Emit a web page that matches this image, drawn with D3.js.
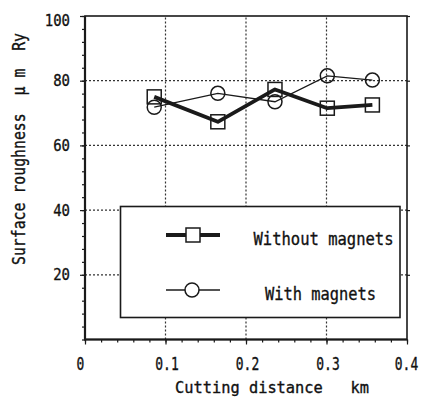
<!DOCTYPE html>
<html>
<head>
<meta charset="utf-8">
<script src="https://cdn.jsdelivr.net/npm/d3@7"></script>
<style>
  body { margin: 0; background: #fff; }
  text { font-family: "DejaVu Sans Mono", "Liberation Mono", monospace; fill: #111; stroke: #111; stroke-width: 0.35px; }
</style>
</head>
<body>
<div id="container"></div>
<script>
// Chart data
const distance = [0.086, 0.165, 0.236, 0.301, 0.357];
const withoutMagnets = [75.0, 67.3, 77.3, 71.5, 72.5];
const withMagnets = [71.8, 76.1, 73.5, 81.5, 80.2];
const xTicks = [0, 0.1, 0.2, 0.3, 0.4];
const xTickLabels = ["0", "0.1", "0.2", "0.3", "0.4"];
const yTicks = [20, 40, 60, 80, 100];
const seriesNames = ["Without magnets", "With magnets"];
const xTitle = "Cutting distance\u00A0\u00A0\u00A0km";
const yTitle = "Surface roughness\u00A0\u00A0\u03BC\u00A0m\u00A0\u00A0Ry";

const width = 425;
const height = 398;
const ink = "#1a1a1a";

const svg = d3.select("#container")
    .append("svg")
    .attr("width", width)
    .attr("height", height);

const xScale = d3.scaleLinear().domain([0, 0.4]).range([85, 407]);
const yScale = d3.scaleLinear().domain([0, 100]).range([339.5, 16]);

//Grid lines (dotted)
svg.append("g").selectAll("line")
    .data(xTicks.slice(1, -1))
    .enter().append("line")
    .attr("x1", d => xScale(d)).attr("x2", d => xScale(d))
    .attr("y1", yScale(0)).attr("y2", yScale(100))
    .attr("stroke", "#333").attr("stroke-width", 1.2)
    .attr("stroke-dasharray", "2,2");
svg.append("g").selectAll("line")
    .data(yTicks.slice(0, -1))
    .enter().append("line")
    .attr("x1", xScale(0)).attr("x2", xScale(0.4))
    .attr("y1", d => yScale(d)).attr("y2", d => yScale(d))
    .attr("stroke", "#333").attr("stroke-width", 1.2)
    .attr("stroke-dasharray", "2,2");

//Minor ticks
const yMinor = d3.axisLeft(yScale).tickValues(d3.range(0, 101, 4)).tickSize(3).tickFormat("");
svg.append("g").attr("transform", `translate(${xScale(0)},0)`).call(yMinor)
    .call(g => g.select(".domain").remove());
const xMinor = d3.axisBottom(xScale).tickValues(d3.range(0, 0.401, 0.02)).tickSize(3).tickFormat("");
svg.append("g").attr("transform", `translate(0,${yScale(0)})`).call(xMinor)
    .call(g => g.select(".domain").remove());

//Right side inner ticks
const yRight = d3.axisLeft(yScale).tickValues(yTicks).tickSize(3).tickFormat("");
svg.append("g").attr("transform", `translate(${xScale(0.4) + 3},0)`).call(yRight)
    .call(g => g.select(".domain").remove());

//Major axes
const yAxis = d3.axisLeft(yScale).tickValues(yTicks).tickSize(5).tickSizeOuter(0).tickPadding(10);
svg.append("g").attr("id", "y-axis")
    .attr("transform", `translate(${xScale(0)},0)`)
    .call(yAxis)
    .call(g => g.select(".domain").remove())
    .call(g => g.selectAll("text")
        .style("font-size", "16px")
        .attr("y", d => d === 100 ? 4 : 0)
        .attr("textLength", d => String(d).length * 8.4)
        .attr("lengthAdjust", "spacingAndGlyphs"));

const xAxis = d3.axisBottom(xScale).tickValues(xTicks).tickSize(5).tickSizeOuter(0).tickPadding(13)
    .tickFormat((d, i) => xTickLabels[i]);
svg.append("g").attr("id", "x-axis")
    .attr("transform", `translate(0,${yScale(0)})`)
    .call(xAxis)
    .call(g => g.select(".domain").remove())
    .call(g => g.selectAll("text")
        .style("font-size", "17px")
        .attr("x", (d, i) => i === 0 ? -5 : (i === xTicks.length - 1 ? -1 : 1))
        .attr("textLength", (d, i) => xTickLabels[i].length * 7.8)
        .attr("lengthAdjust", "spacingAndGlyphs"));

svg.selectAll(".tick line").attr("stroke", ink).attr("stroke-width", 1.2);

//Plot frame
svg.append("rect")
    .attr("x", xScale(0)).attr("y", yScale(100))
    .attr("width", xScale(0.4) - xScale(0))
    .attr("height", yScale(0) - yScale(100))
    .attr("fill", "none").attr("stroke", ink).attr("stroke-width", 1.6);
svg.append("path")
    .attr("d", `M${xScale(0)},${yScale(100)}V${yScale(0)}H${xScale(0.4)}`)
    .attr("fill", "none").attr("stroke", ink).attr("stroke-width", 2.2);

//Legend box
const legend = svg.append("g");
legend.append("rect")
    .attr("x", 120.5).attr("y", 206.5).attr("width", 279.5).attr("height", 111)
    .attr("fill", "#fff").attr("stroke", ink).attr("stroke-width", 1.6);

//Series
const line = d3.line().x((d, i) => xScale(distance[i])).y(d => yScale(d));

svg.append("path").datum(withMagnets)
    .attr("d", line).attr("fill", "none")
    .attr("stroke", ink).attr("stroke-width", 1.3);
svg.append("g").selectAll("circle")
    .data(withMagnets).enter().append("circle")
    .attr("cx", (d, i) => xScale(distance[i])).attr("cy", d => yScale(d))
    .attr("r", 7).attr("fill", "none").attr("stroke", ink).attr("stroke-width", 1.5);

svg.append("path").datum(withoutMagnets)
    .attr("d", line).attr("fill", "none")
    .attr("stroke", ink).attr("stroke-width", 3.8).attr("stroke-linejoin", "round");
svg.append("g").selectAll("rect")
    .data(withoutMagnets).enter().append("rect")
    .attr("x", (d, i) => xScale(distance[i]) - 7).attr("y", d => yScale(d) - 7)
    .attr("width", 14).attr("height", 14)
    .attr("fill", "none").attr("stroke", ink).attr("stroke-width", 1.5);

//Legend entries
const rows = [235, 290];
const textX = [253.5, 265];
const textLen = [140, 111];
seriesNames.forEach((name, i) => {
    legend.append("line")
        .attr("x1", 166).attr("x2", 220).attr("y1", rows[i]).attr("y2", rows[i])
        .attr("stroke", ink).attr("stroke-width", i === 0 ? 3.8 : 1.3);
    if (i === 0) {
        legend.append("rect")
            .attr("x", 186).attr("y", rows[i] - 7).attr("width", 14).attr("height", 14)
            .attr("fill", "#fff").attr("stroke", ink).attr("stroke-width", 1.5);
    } else {
        legend.append("circle")
            .attr("cx", 192).attr("cy", rows[i]).attr("r", 7)
            .attr("fill", "#fff").attr("stroke", ink).attr("stroke-width", 1.5);
    }
    legend.append("text")
        .attr("x", textX[i]).attr("y", rows[i] + 10)
        .style("font-size", "18px")
        .attr("textLength", textLen[i]).attr("lengthAdjust", "spacingAndGlyphs")
        .text(name);
});

//Axis titles
svg.append("text")
    .attr("x", 272).attr("y", 393)
    .attr("text-anchor", "middle")
    .style("font-size", "16px")
    .attr("textLength", 194).attr("lengthAdjust", "spacingAndGlyphs")
    .text(xTitle);
svg.append("text")
    .attr("transform", "translate(25,149) rotate(-90)")
    .attr("text-anchor", "middle")
    .style("font-size", "17px")
    .attr("textLength", 232).attr("lengthAdjust", "spacingAndGlyphs")
    .text(yTitle);
</script>
</body>
</html>
